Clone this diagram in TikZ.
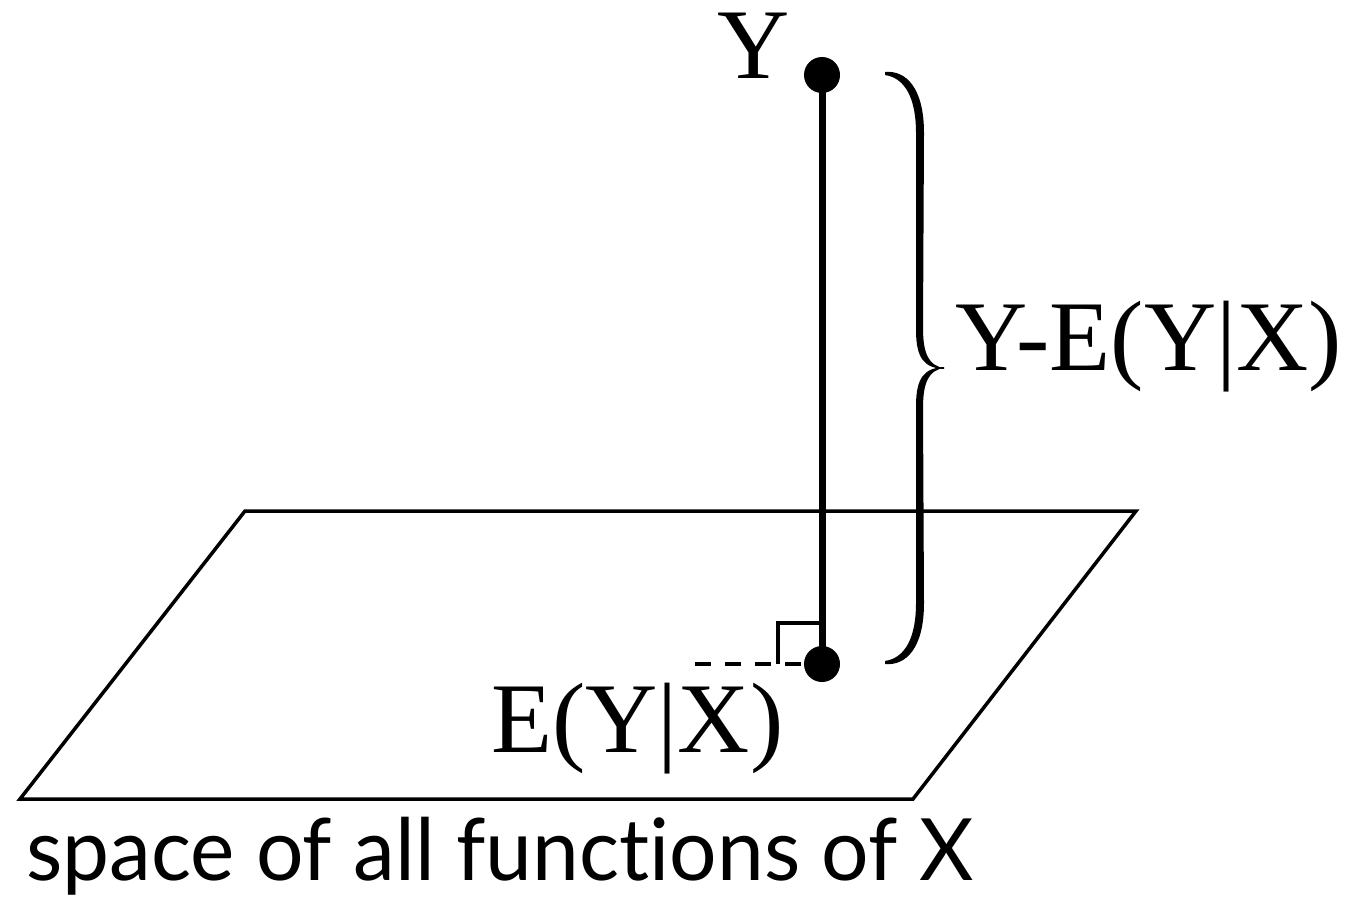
\documentclass[tikz,border=0pt]{standalone}
\usepackage{fontspec}
\setmainfont{Liberation Serif}
\newfontfamily\labelsans[Ligatures={NoCommon}]{Lato}
\begin{document}
\begin{tikzpicture}[x=1pt,y=-1pt,
  dot/.style={circle,fill=black,draw=none,minimum size=36pt,inner sep=0pt},
  serif/.style={font=\fontsize{100}{102}\selectfont,inner sep=0pt},
  plane/.style={line width=3.5pt,line join=miter},
  stem/.style={line width=7pt},
  thin/.style={line width=3.5pt},
  bracefill/.style={fill=black,draw=none}]
\useasboundingbox (0,0) rectangle (1359,901);
% plane
\draw[plane] (20,799) -- (913,799) -- (1136,511) -- (245,511) -- cycle;
% points
\node[dot] (y) at (822,75) {};
\node[dot] (e) at (822,664) {};
\coordinate (dstart) at (695,664);
\coordinate (ra1) at (778,664);
\coordinate (ra2) at (778,623);
\coordinate (ra3) at (822,623);
\draw[stem] (y.center) -- (e.center);
\draw[thin,dash pattern=on 16pt off 14pt] (dstart) -- (e);
\draw[thin,line join=miter] (ra1) -- (ra2) -- (ra3);
% labels
\node[serif,anchor=base west] (ylab) at (717,79) {Y};
\node[serif,anchor=base west] (elab) at (491,752) {E(Y|X)};
\node[serif,anchor=base west] (rlab) at (955,370) {Y-E(Y|X)};
\node[inner sep=0pt,anchor=base west,xscale=0.975,font=\labelsans\fontsize{86}{90}\selectfont] (space) at (26,880) {space of all functions of X};
% brace (upper half, then mirrored)
\foreach \s in {1,-1}{
\begin{scope}[shift={(0,368)},yscale=\s]
\fill[bracefill] (885,-296) .. controls (906,-298) and (924,-280) .. (924,-235)
  -- (923,-40) .. controls (923,-14) and (929,-2) .. (944,0)
  -- (944,1) .. controls (924,0) and (916,-10) .. (916,-38)
  -- (916,-235) .. controls (916,-270) and (905,-290) .. (885,-293) -- cycle;
\end{scope}}
\end{tikzpicture}
\end{document}
